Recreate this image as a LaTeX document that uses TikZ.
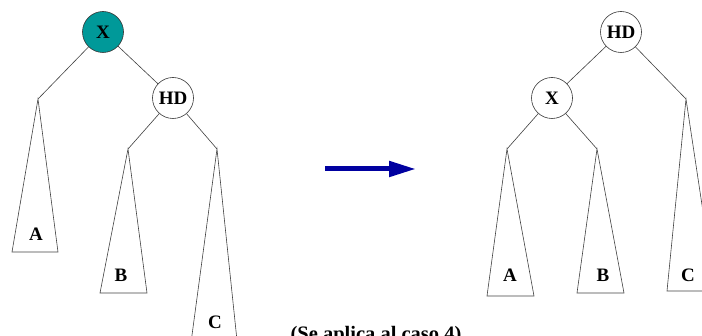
\documentclass[tikz,border=0pt]{standalone}
\usepackage{fontspec}
\setmainfont{Liberation Serif}
\usepackage{xcolor}
\usetikzlibrary{arrows.meta}
\definecolor{nodeteal}{RGB}{0,153,153}
\definecolor{arrownavy}{RGB}{0,0,160}

\begin{document}
\begin{tikzpicture}[x=1pt, y=-1pt,
        font=\fontsize{19}{22}\selectfont\bfseries,
        knot/.style={circle, draw=black!80, line width=0.6pt, minimum size=41pt, inner sep=0pt},
        branch/.style={draw=black!75, line width=0.6pt},
        subtree/.style={draw=black!75, line width=0.6pt}]
        \useasboundingbox (0,0) rectangle (702,336);

        % arbol antes de la rotacion
        \node[knot, fill=nodeteal] (x1) at (103,32) {X};
        \node[knot] (hd1) at (173,98) {HD};
        \coordinate (a1) at (38,99);
        \coordinate (b1) at (128,149);
        \coordinate (c1) at (217,149);
        \path[branch]
        (x1) edge (a1)
        (x1) edge (hd1)
        (hd1) edge (b1)
        (hd1) edge (c1);
        \draw[subtree] (a1) -- (12,252) -- (58,252) -- cycle;
        \draw[subtree] (b1) -- (100,293) -- (147,293) -- cycle;
        \draw[subtree] (c1) -- (190,350) -- (238,350) -- cycle;
        \node (la1) at (36,234) {A};
        \node (lb1) at (121,275) {B};
        \node (lc1) at (215,322) {C};

        % flecha
        \coordinate (from) at (325,169);
        \coordinate (to) at (416,169);
        \draw[arrownavy, line width=5pt, -{Triangle[length=27pt, width=15pt]}] (from) -- (to);
        \node[anchor=base, font=\fontsize{20.5}{24}\selectfont\bfseries] (caso) at (376,341) {(Se aplica al caso 4)};

        % arbol despues de la rotacion
        \node[knot] (hd2) at (621,32) {HD};
        \node[knot] (x2) at (552,98) {X};
        \coordinate (a2) at (507,149);
        \coordinate (b2) at (597,149);
        \coordinate (c2) at (686,99);
        \path[branch]
        (hd2) edge (x2)
        (hd2) edge (c2)
        (x2) edge (a2)
        (x2) edge (b2);
        \draw[subtree] (a2) -- (487,296) -- (534,296) -- cycle;
        \draw[subtree] (b2) -- (577,293) -- (624,293) -- cycle;
        \draw[subtree] (c2) -- (667,291) -- (715,291) -- cycle;
        \node (la2) at (510,275) {A};
        \node (lb2) at (603,275) {B};
        \node (lc2) at (688,275) {C};
\end{tikzpicture}
\end{document}
